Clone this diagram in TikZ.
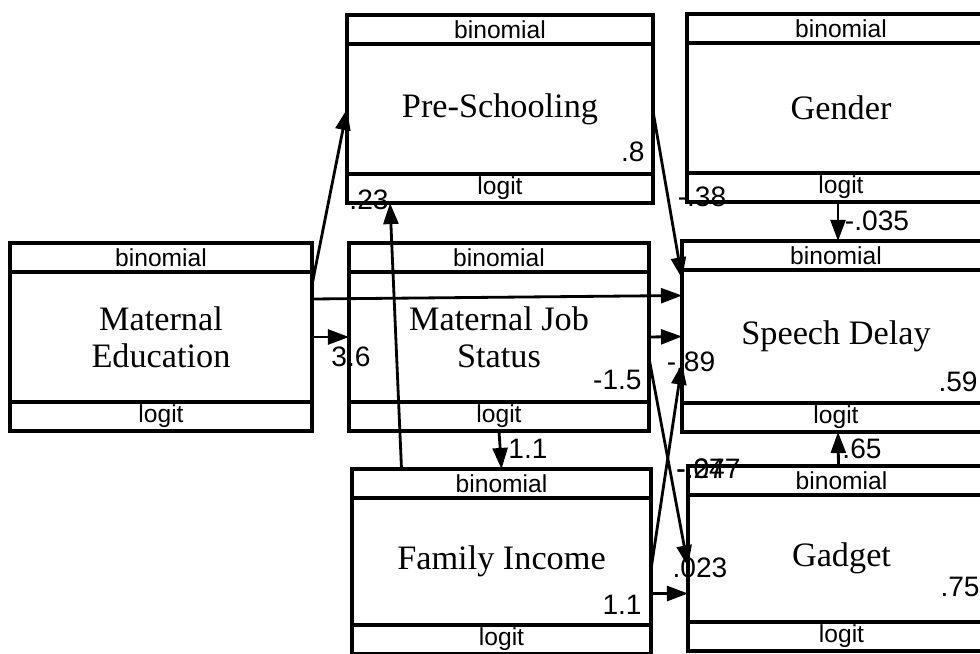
\documentclass[tikz,border=0pt]{standalone}
\usepackage{fontspec}
\setmainfont{Liberation Serif}
\setsansfont{Liberation Sans}
\usetikzlibrary{positioning,arrows.meta}

\begin{document}
\begin{tikzpicture}[x=0.02cm, y=-0.02cm,
		var/.style={draw, line width=1.9pt, outer sep=0pt, inner sep=0pt,
			minimum width=6cm, minimum height=2.6cm, align=center,
			font=\rmfamily\fontsize{19.5}{21}\selectfont},
		band/.style={draw, line width=1.9pt, outer sep=0pt, inner sep=0pt,
			minimum width=6cm, minimum height=0.58cm,
			font=\sffamily\fontsize{14}{16}\selectfont},
		wd/.style={minimum width=#1},
		ht/.style={minimum height=#1},
		coef/.style={inner sep=0pt, font=\sffamily\fontsize{16}{18}\selectfont},
		eff/.style={line width=1.6pt, -{Triangle[length=12pt,width=8.5pt]}}]
	\useasboundingbox (0,0) rectangle (980,653);
	% variables, each with a distribution band on top and a link band below
	\node[var, wd=6.04cm]               (me)  at (161,337)   {Maternal\\Education};
	\node[band, wd=6.04cm, above=0pt of me]  (meTop)  {binomial};
	\node[band, wd=6.04cm, below=0pt of me]  (meBot)  {logit};
	\node[var, wd=6.12cm]               (ps)  at (500,109)   {Pre-Schooling};
	\node[band, wd=6.12cm, above=0pt of ps]  (psTop)  {binomial};
	\node[band, wd=6.12cm, below=0pt of ps]  (psBot)  {logit};
	\node[var, wd=6.16cm]               (gdr) at (841,108)   {Gender};
	\node[band, wd=6.16cm, above=0pt of gdr] (gdrTop) {binomial};
	\node[band, wd=6.16cm, below=0pt of gdr] (gdrBot) {logit};
	\node[var]                          (mjs) at (499,337)   {Maternal Job\\Status};
	\node[band, above=0pt of mjs]            (mjsTop) {binomial};
	\node[band, below=0pt of mjs]            (mjsBot) {logit};
	\node[var, wd=6.16cm, ht=2.66cm]    (sd)  at (836,336.5) {Speech Delay};
	\node[band, wd=6.16cm, above=0pt of sd]  (sdTop)  {binomial};
	\node[band, wd=6.16cm, below=0pt of sd]  (sdBot)  {logit};
	\node[var, wd=5.98cm, ht=2.54cm]    (fi)  at (501.5,561.5) {Family Income};
	\node[band, wd=5.98cm, above=0pt of fi]  (fiTop)  {binomial};
	\node[band, wd=5.98cm, below=0pt of fi]  (fiBot)  {logit};
	\node[var, wd=6.14cm, ht=2.54cm]    (gad) at (841.5,558.5) {Gadget};
	\node[band, wd=6.14cm, above=0pt of gad] (gadTop) {binomial};
	\node[band, wd=6.14cm, below=0pt of gad] (gadBot) {logit};
	% intercepts inside the boxes
	\node[coef, anchor=base east] (psInt)  at ([shift={(-8,-12)}]ps.south east)   {.8};
	\node[coef, anchor=base east] (mjsInt) at ([shift={(-7,-12)}]mjs.south east)  {-1.5};
	\node[coef, anchor=base east] (fiInt)  at ([shift={(-9,-10)}]fi.south east)   {1.1};
	\node[coef, anchor=base east] (sdInt)  at ([shift={(-12,-11)}]sd.south east)  {.59};
	\node[coef, anchor=base east] (gadInt) at ([shift={(-15,-25)}]gad.south east) {.75};
	% paths
	\draw[eff] ([shift={(0,-52)}]me.east) -- (ps.west);
	\draw[eff] ([shift={(0,-38)}]me.east) -- ([shift={(0,-41)}]sd.west);
	\draw[eff] (me.east) -- (mjs.west);
	\draw[eff] (mjs.east) -- (sd.west);
	\draw[eff] ([shift={(0,2)}]ps.east) -- ([shift={(0,-58)}]sd.west);
	\draw[eff] ([shift={(-100,0)}]fiTop.north) -- ([shift={(-110,0)}]psBot.south);
	\draw[eff] (mjsBot.south) -- (fiTop.north);
	\draw[eff] ([shift={(0,21)}]mjs.east) -- ([shift={(0,8)}]gad.west);
	\draw[eff] ([shift={(0,8)}]fi.east) -- ([shift={(0,27)}]sd.west);
	\draw[eff] ([shift={(0,32)}]fi.east) -- ([shift={(0,35)}]gad.west);
	\draw[eff] ([shift={(-3,0)}]gdrBot.south) -- ([shift={(2,0)}]sdTop.north);
	\draw[eff] ([shift={(-3,0)}]gadTop.north) -- ([shift={(2,0)}]sdBot.south);
	% path coefficients
	\node[coef] (c23)  at (369,200) {.23};
	\node[coef] (c38)  at (702,197) {-.38};
	\node[coef] (c36)  at (351,357) {3.6};
	\node[coef] (c89)  at (691,362) {-.89};
	\node[coef] (c11)  at (528,449) {1.1};
	\node[coef] (c035) at (877,221) {-.035};
	\node[coef] (c65)  at (862,449) {.65};
	\node[coef, anchor=west] (c27)  at (676,469) {-.27};
	\node[coef, anchor=west] (c047) at (676,469) {-.047};
	\node[coef] (c023) at (700,568) {.023};
\end{tikzpicture}
\end{document}
